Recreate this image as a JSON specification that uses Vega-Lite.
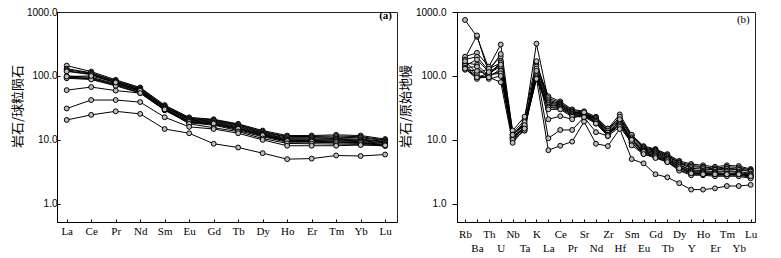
{
"$schema": "https://vega.github.io/schema/vega-lite/v6.json",
"padding": {"left": 10, "top": 6, "right": 0, "bottom": 0},
"config": {"view": {"stroke": "#222", "strokeWidth": 1}, "axis": {"grid": false, "domainColor": "#000", "tickColor": "#000", "labelColor": "#000", "titleColor": "#000"}},
"spacing": 60,
"bounds": "flush",
"datasets": {
"ree": [
{"s":"A1","e":"La","v":145},{"s":"A1","e":"Ce","v":117},{"s":"A1","e":"Pr","v":87},{"s":"A1","e":"Nd","v":66},{"s":"A1","e":"Sm","v":35},{"s":"A1","e":"Eu","v":22.5},{"s":"A1","e":"Gd","v":21},{"s":"A1","e":"Tb","v":17.8},{"s":"A1","e":"Dy","v":14},{"s":"A1","e":"Ho","v":11.7},{"s":"A1","e":"Er","v":11.7},{"s":"A1","e":"Tm","v":12},{"s":"A1","e":"Yb","v":11.7},{"s":"A1","e":"Lu","v":10.3},
{"s":"A2","e":"La","v":130},{"s":"A2","e":"Ce","v":112},{"s":"A2","e":"Pr","v":84},{"s":"A2","e":"Nd","v":64},{"s":"A2","e":"Sm","v":34},{"s":"A2","e":"Eu","v":22},{"s":"A2","e":"Gd","v":20.5},{"s":"A2","e":"Tb","v":17.5},{"s":"A2","e":"Dy","v":13.5},{"s":"A2","e":"Ho","v":11.3},{"s":"A2","e":"Er","v":11.3},{"s":"A2","e":"Tm","v":11.5},{"s":"A2","e":"Yb","v":11.2},{"s":"A2","e":"Lu","v":10},
{"s":"A3","e":"La","v":125},{"s":"A3","e":"Ce","v":110},{"s":"A3","e":"Pr","v":82},{"s":"A3","e":"Nd","v":63},{"s":"A3","e":"Sm","v":33},{"s":"A3","e":"Eu","v":21.5},{"s":"A3","e":"Gd","v":20},{"s":"A3","e":"Tb","v":17},{"s":"A3","e":"Dy","v":13.2},{"s":"A3","e":"Ho","v":11},{"s":"A3","e":"Er","v":11},{"s":"A3","e":"Tm","v":11},{"s":"A3","e":"Yb","v":10.8},{"s":"A3","e":"Lu","v":9.8},
{"s":"A4","e":"La","v":120},{"s":"A4","e":"Ce","v":107},{"s":"A4","e":"Pr","v":80},{"s":"A4","e":"Nd","v":61},{"s":"A4","e":"Sm","v":32.5},{"s":"A4","e":"Eu","v":21},{"s":"A4","e":"Gd","v":19.5},{"s":"A4","e":"Tb","v":16.5},{"s":"A4","e":"Dy","v":12.8},{"s":"A4","e":"Ho","v":10.6},{"s":"A4","e":"Er","v":10.7},{"s":"A4","e":"Tm","v":10.5},{"s":"A4","e":"Yb","v":10.3},{"s":"A4","e":"Lu","v":9.5},
{"s":"A5","e":"La","v":118},{"s":"A5","e":"Ce","v":105},{"s":"A5","e":"Pr","v":78},{"s":"A5","e":"Nd","v":60},{"s":"A5","e":"Sm","v":32},{"s":"A5","e":"Eu","v":20.5},{"s":"A5","e":"Gd","v":19},{"s":"A5","e":"Tb","v":16},{"s":"A5","e":"Dy","v":12.5},{"s":"A5","e":"Ho","v":10.3},{"s":"A5","e":"Er","v":10.3},{"s":"A5","e":"Tm","v":10.2},{"s":"A5","e":"Yb","v":10},{"s":"A5","e":"Lu","v":9.3},
{"s":"A6","e":"La","v":100},{"s":"A6","e":"Ce","v":95},{"s":"A6","e":"Pr","v":76},{"s":"A6","e":"Nd","v":58},{"s":"A6","e":"Sm","v":31},{"s":"A6","e":"Eu","v":20},{"s":"A6","e":"Gd","v":18.5},{"s":"A6","e":"Tb","v":15.5},{"s":"A6","e":"Dy","v":12.2},{"s":"A6","e":"Ho","v":10},{"s":"A6","e":"Er","v":10},{"s":"A6","e":"Tm","v":9.9},{"s":"A6","e":"Yb","v":9.7},{"s":"A6","e":"Lu","v":9},
{"s":"A7","e":"La","v":96},{"s":"A7","e":"Ce","v":92},{"s":"A7","e":"Pr","v":74},{"s":"A7","e":"Nd","v":57},{"s":"A7","e":"Sm","v":30},{"s":"A7","e":"Eu","v":19.5},{"s":"A7","e":"Gd","v":18},{"s":"A7","e":"Tb","v":15},{"s":"A7","e":"Dy","v":12},{"s":"A7","e":"Ho","v":9.8},{"s":"A7","e":"Er","v":9.8},{"s":"A7","e":"Tm","v":9.6},{"s":"A7","e":"Yb","v":9.4},{"s":"A7","e":"Lu","v":8.8},
{"s":"A8","e":"La","v":94},{"s":"A8","e":"Ce","v":90},{"s":"A8","e":"Pr","v":72},{"s":"A8","e":"Nd","v":55},{"s":"A8","e":"Sm","v":29.5},{"s":"A8","e":"Eu","v":19},{"s":"A8","e":"Gd","v":17.5},{"s":"A8","e":"Tb","v":14.5},{"s":"A8","e":"Dy","v":11.5},{"s":"A8","e":"Ho","v":9.5},{"s":"A8","e":"Er","v":9.5},{"s":"A8","e":"Tm","v":9.3},{"s":"A8","e":"Yb","v":9.1},{"s":"A8","e":"Lu","v":8.5},
{"s":"A9","e":"La","v":92},{"s":"A9","e":"Ce","v":88},{"s":"A9","e":"Pr","v":70},{"s":"A9","e":"Nd","v":54},{"s":"A9","e":"Sm","v":29},{"s":"A9","e":"Eu","v":18.5},{"s":"A9","e":"Gd","v":17},{"s":"A9","e":"Tb","v":14},{"s":"A9","e":"Dy","v":11.2},{"s":"A9","e":"Ho","v":9.2},{"s":"A9","e":"Er","v":9.2},{"s":"A9","e":"Tm","v":9},{"s":"A9","e":"Yb","v":8.8},{"s":"A9","e":"Lu","v":8.2},
{"s":"A10","e":"La","v":98},{"s":"A10","e":"Ce","v":100},{"s":"A10","e":"Pr","v":79},{"s":"A10","e":"Nd","v":59},{"s":"A10","e":"Sm","v":30.5},{"s":"A10","e":"Eu","v":19},{"s":"A10","e":"Gd","v":18},{"s":"A10","e":"Tb","v":15},{"s":"A10","e":"Dy","v":11.8},{"s":"A10","e":"Ho","v":9.6},{"s":"A10","e":"Er","v":9.4},{"s":"A10","e":"Tm","v":9.2},{"s":"A10","e":"Yb","v":9},{"s":"A10","e":"Lu","v":8.3},
{"s":"A11","e":"La","v":60},{"s":"A11","e":"Ce","v":67},{"s":"A11","e":"Pr","v":59},{"s":"A11","e":"Nd","v":54},{"s":"A11","e":"Sm","v":30},{"s":"A11","e":"Eu","v":17.8},{"s":"A11","e":"Gd","v":15.5},{"s":"A11","e":"Tb","v":13.5},{"s":"A11","e":"Dy","v":10.5},{"s":"A11","e":"Ho","v":8.8},{"s":"A11","e":"Er","v":8.7},{"s":"A11","e":"Tm","v":8.6},{"s":"A11","e":"Yb","v":8.5},{"s":"A11","e":"Lu","v":8},
{"s":"A12","e":"La","v":31},{"s":"A12","e":"Ce","v":42},{"s":"A12","e":"Pr","v":42},{"s":"A12","e":"Nd","v":39},{"s":"A12","e":"Sm","v":22.6},{"s":"A12","e":"Eu","v":16},{"s":"A12","e":"Gd","v":14.8},{"s":"A12","e":"Tb","v":12.7},{"s":"A12","e":"Dy","v":10},{"s":"A12","e":"Ho","v":8.1},{"s":"A12","e":"Er","v":8.1},{"s":"A12","e":"Tm","v":8.1},{"s":"A12","e":"Yb","v":8.3},{"s":"A12","e":"Lu","v":8.2},
{"s":"A13","e":"La","v":20.5},{"s":"A13","e":"Ce","v":24.6},{"s":"A13","e":"Pr","v":28},{"s":"A13","e":"Nd","v":25.5},{"s":"A13","e":"Sm","v":14.8},{"s":"A13","e":"Eu","v":12.7},{"s":"A13","e":"Gd","v":8.7},{"s":"A13","e":"Tb","v":7.6},{"s":"A13","e":"Dy","v":6.2},{"s":"A13","e":"Ho","v":5},{"s":"A13","e":"Er","v":5.1},{"s":"A13","e":"Tm","v":5.7},{"s":"A13","e":"Yb","v":5.6},{"s":"A13","e":"Lu","v":5.9}
],
"spider": [
{"s":"B1","e":"Rb","v":750},{"s":"B1","e":"Ba","v":410},{"s":"B1","e":"Th","v":130},{"s":"B1","e":"U","v":200},{"s":"B1","e":"Nb","v":12},{"s":"B1","e":"Ta","v":18},{"s":"B1","e":"K","v":150},{"s":"B1","e":"La","v":48},{"s":"B1","e":"Ce","v":40},{"s":"B1","e":"Pr","v":30},{"s":"B1","e":"Sr","v":28},{"s":"B1","e":"Nd","v":23},{"s":"B1","e":"Zr","v":15},{"s":"B1","e":"Hf","v":22},{"s":"B1","e":"Sm","v":12},{"s":"B1","e":"Eu","v":8},{"s":"B1","e":"Gd","v":7.2},{"s":"B1","e":"Tb","v":6},{"s":"B1","e":"Dy","v":4.7},{"s":"B1","e":"Y","v":4.2},{"s":"B1","e":"Ho","v":4},{"s":"B1","e":"Er","v":3.8},{"s":"B1","e":"Tm","v":4},{"s":"B1","e":"Yb","v":3.9},{"s":"B1","e":"Lu","v":3.5},
{"s":"B2","e":"Rb","v":190},{"s":"B2","e":"Ba","v":430},{"s":"B2","e":"Th","v":110},{"s":"B2","e":"U","v":150},{"s":"B2","e":"Nb","v":11},{"s":"B2","e":"Ta","v":16},{"s":"B2","e":"K","v":130},{"s":"B2","e":"La","v":45},{"s":"B2","e":"Ce","v":38},{"s":"B2","e":"Pr","v":29},{"s":"B2","e":"Sr","v":27},{"s":"B2","e":"Nd","v":22},{"s":"B2","e":"Zr","v":14},{"s":"B2","e":"Hf","v":21},{"s":"B2","e":"Sm","v":11.5},{"s":"B2","e":"Eu","v":7.8},{"s":"B2","e":"Gd","v":7},{"s":"B2","e":"Tb","v":5.8},{"s":"B2","e":"Dy","v":4.5},{"s":"B2","e":"Y","v":4},{"s":"B2","e":"Ho","v":3.8},{"s":"B2","e":"Er","v":3.6},{"s":"B2","e":"Tm","v":3.8},{"s":"B2","e":"Yb","v":3.7},{"s":"B2","e":"Lu","v":3.4},
{"s":"B3","e":"Rb","v":200},{"s":"B3","e":"Ba","v":230},{"s":"B3","e":"Th","v":140},{"s":"B3","e":"U","v":310},{"s":"B3","e":"Nb","v":13},{"s":"B3","e":"Ta","v":20},{"s":"B3","e":"K","v":320},{"s":"B3","e":"La","v":42},{"s":"B3","e":"Ce","v":37},{"s":"B3","e":"Pr","v":28},{"s":"B3","e":"Sr","v":26},{"s":"B3","e":"Nd","v":22},{"s":"B3","e":"Zr","v":15},{"s":"B3","e":"Hf","v":25},{"s":"B3","e":"Sm","v":12},{"s":"B3","e":"Eu","v":7.5},{"s":"B3","e":"Gd","v":6.8},{"s":"B3","e":"Tb","v":5.6},{"s":"B3","e":"Dy","v":4.4},{"s":"B3","e":"Y","v":3.8},{"s":"B3","e":"Ho","v":3.7},{"s":"B3","e":"Er","v":3.5},{"s":"B3","e":"Tm","v":3.6},{"s":"B3","e":"Yb","v":3.5},{"s":"B3","e":"Lu","v":3.3},
{"s":"B4","e":"Rb","v":180},{"s":"B4","e":"Ba","v":200},{"s":"B4","e":"Th","v":120},{"s":"B4","e":"U","v":220},{"s":"B4","e":"Nb","v":14},{"s":"B4","e":"Ta","v":23},{"s":"B4","e":"K","v":170},{"s":"B4","e":"La","v":40},{"s":"B4","e":"Ce","v":36},{"s":"B4","e":"Pr","v":27},{"s":"B4","e":"Sr","v":26},{"s":"B4","e":"Nd","v":21},{"s":"B4","e":"Zr","v":14},{"s":"B4","e":"Hf","v":23},{"s":"B4","e":"Sm","v":11},{"s":"B4","e":"Eu","v":7.3},{"s":"B4","e":"Gd","v":6.6},{"s":"B4","e":"Tb","v":5.5},{"s":"B4","e":"Dy","v":4.3},{"s":"B4","e":"Y","v":3.6},{"s":"B4","e":"Ho","v":3.5},{"s":"B4","e":"Er","v":3.4},{"s":"B4","e":"Tm","v":3.5},{"s":"B4","e":"Yb","v":3.4},{"s":"B4","e":"Lu","v":3.2},
{"s":"B5","e":"Rb","v":160},{"s":"B5","e":"Ba","v":150},{"s":"B5","e":"Th","v":100},{"s":"B5","e":"U","v":170},{"s":"B5","e":"Nb","v":12},{"s":"B5","e":"Ta","v":17},{"s":"B5","e":"K","v":140},{"s":"B5","e":"La","v":38},{"s":"B5","e":"Ce","v":35},{"s":"B5","e":"Pr","v":27},{"s":"B5","e":"Sr","v":25},{"s":"B5","e":"Nd","v":21},{"s":"B5","e":"Zr","v":13},{"s":"B5","e":"Hf","v":20},{"s":"B5","e":"Sm","v":10.5},{"s":"B5","e":"Eu","v":7},{"s":"B5","e":"Gd","v":6.4},{"s":"B5","e":"Tb","v":5.3},{"s":"B5","e":"Dy","v":4.1},{"s":"B5","e":"Y","v":3.4},{"s":"B5","e":"Ho","v":3.3},{"s":"B5","e":"Er","v":3.2},{"s":"B5","e":"Tm","v":3.3},{"s":"B5","e":"Yb","v":3.2},{"s":"B5","e":"Lu","v":3},
{"s":"B6","e":"Rb","v":150},{"s":"B6","e":"Ba","v":100},{"s":"B6","e":"Th","v":95},{"s":"B6","e":"U","v":130},{"s":"B6","e":"Nb","v":10},{"s":"B6","e":"Ta","v":14},{"s":"B6","e":"K","v":120},{"s":"B6","e":"La","v":36},{"s":"B6","e":"Ce","v":34},{"s":"B6","e":"Pr","v":26},{"s":"B6","e":"Sr","v":25},{"s":"B6","e":"Nd","v":20},{"s":"B6","e":"Zr","v":13},{"s":"B6","e":"Hf","v":19},{"s":"B6","e":"Sm","v":10},{"s":"B6","e":"Eu","v":6.8},{"s":"B6","e":"Gd","v":6.2},{"s":"B6","e":"Tb","v":5.1},{"s":"B6","e":"Dy","v":4},{"s":"B6","e":"Y","v":3.3},{"s":"B6","e":"Ho","v":3.2},{"s":"B6","e":"Er","v":3.1},{"s":"B6","e":"Tm","v":3.2},{"s":"B6","e":"Yb","v":3.1},{"s":"B6","e":"Lu","v":2.9},
{"s":"B7","e":"Rb","v":140},{"s":"B7","e":"Ba","v":95},{"s":"B7","e":"Th","v":110},{"s":"B7","e":"U","v":140},{"s":"B7","e":"Nb","v":11},{"s":"B7","e":"Ta","v":15},{"s":"B7","e":"K","v":110},{"s":"B7","e":"La","v":35},{"s":"B7","e":"Ce","v":33},{"s":"B7","e":"Pr","v":25},{"s":"B7","e":"Sr","v":24},{"s":"B7","e":"Nd","v":20},{"s":"B7","e":"Zr","v":12},{"s":"B7","e":"Hf","v":18},{"s":"B7","e":"Sm","v":10},{"s":"B7","e":"Eu","v":6.6},{"s":"B7","e":"Gd","v":6},{"s":"B7","e":"Tb","v":5},{"s":"B7","e":"Dy","v":3.8},{"s":"B7","e":"Y","v":3.2},{"s":"B7","e":"Ho","v":3.1},{"s":"B7","e":"Er","v":3},{"s":"B7","e":"Tm","v":3},{"s":"B7","e":"Yb","v":3},{"s":"B7","e":"Lu","v":2.8},
{"s":"B8","e":"Rb","v":130},{"s":"B8","e":"Ba","v":90},{"s":"B8","e":"Th","v":100},{"s":"B8","e":"U","v":120},{"s":"B8","e":"Nb","v":10.5},{"s":"B8","e":"Ta","v":15},{"s":"B8","e":"K","v":100},{"s":"B8","e":"La","v":33},{"s":"B8","e":"Ce","v":32},{"s":"B8","e":"Pr","v":25},{"s":"B8","e":"Sr","v":24},{"s":"B8","e":"Nd","v":19},{"s":"B8","e":"Zr","v":12},{"s":"B8","e":"Hf","v":18},{"s":"B8","e":"Sm","v":9.5},{"s":"B8","e":"Eu","v":6.4},{"s":"B8","e":"Gd","v":5.8},{"s":"B8","e":"Tb","v":4.8},{"s":"B8","e":"Dy","v":3.6},{"s":"B8","e":"Y","v":3},{"s":"B8","e":"Ho","v":3},{"s":"B8","e":"Er","v":2.9},{"s":"B8","e":"Tm","v":2.9},{"s":"B8","e":"Yb","v":2.9},{"s":"B8","e":"Lu","v":2.7},
{"s":"B9","e":"Rb","v":170},{"s":"B9","e":"Ba","v":110},{"s":"B9","e":"Th","v":130},{"s":"B9","e":"U","v":160},{"s":"B9","e":"Nb","v":12},{"s":"B9","e":"Ta","v":19},{"s":"B9","e":"K","v":95},{"s":"B9","e":"La","v":32},{"s":"B9","e":"Ce","v":31},{"s":"B9","e":"Pr","v":24},{"s":"B9","e":"Sr","v":23},{"s":"B9","e":"Nd","v":19},{"s":"B9","e":"Zr","v":12},{"s":"B9","e":"Hf","v":17},{"s":"B9","e":"Sm","v":9},{"s":"B9","e":"Eu","v":6.2},{"s":"B9","e":"Gd","v":5.6},{"s":"B9","e":"Tb","v":4.6},{"s":"B9","e":"Dy","v":3.4},{"s":"B9","e":"Y","v":2.9},{"s":"B9","e":"Ho","v":2.9},{"s":"B9","e":"Er","v":2.8},{"s":"B9","e":"Tm","v":2.8},{"s":"B9","e":"Yb","v":2.8},{"s":"B9","e":"Lu","v":2.6},
{"s":"B10","e":"Rb","v":125},{"s":"B10","e":"Ba","v":120},{"s":"B10","e":"Th","v":105},{"s":"B10","e":"U","v":110},{"s":"B10","e":"Nb","v":11},{"s":"B10","e":"Ta","v":16},{"s":"B10","e":"K","v":90},{"s":"B10","e":"La","v":30},{"s":"B10","e":"Ce","v":30},{"s":"B10","e":"Pr","v":23},{"s":"B10","e":"Sr","v":23},{"s":"B10","e":"Nd","v":18},{"s":"B10","e":"Zr","v":11.5},{"s":"B10","e":"Hf","v":16},{"s":"B10","e":"Sm","v":9},{"s":"B10","e":"Eu","v":6},{"s":"B10","e":"Gd","v":5.4},{"s":"B10","e":"Tb","v":4.5},{"s":"B10","e":"Dy","v":3.3},{"s":"B10","e":"Y","v":2.8},{"s":"B10","e":"Ho","v":2.8},{"s":"B10","e":"Er","v":2.7},{"s":"B10","e":"Tm","v":2.7},{"s":"B10","e":"Yb","v":2.7},{"s":"B10","e":"Lu","v":2.5},
{"s":"B11","e":"Rb","v":145},{"s":"B11","e":"Ba","v":180},{"s":"B11","e":"Th","v":115},{"s":"B11","e":"U","v":150},{"s":"B11","e":"Nb","v":12},{"s":"B11","e":"Ta","v":17},{"s":"B11","e":"K","v":130},{"s":"B11","e":"La","v":21},{"s":"B11","e":"Ce","v":23.5},{"s":"B11","e":"Pr","v":21},{"s":"B11","e":"Sr","v":27},{"s":"B11","e":"Nd","v":18},{"s":"B11","e":"Zr","v":12},{"s":"B11","e":"Hf","v":20},{"s":"B11","e":"Sm","v":10},{"s":"B11","e":"Eu","v":6.5},{"s":"B11","e":"Gd","v":5.5},{"s":"B11","e":"Tb","v":4.8},{"s":"B11","e":"Dy","v":3.8},{"s":"B11","e":"Y","v":3.1},{"s":"B11","e":"Ho","v":3},{"s":"B11","e":"Er","v":2.9},{"s":"B11","e":"Tm","v":2.9},{"s":"B11","e":"Yb","v":2.9},{"s":"B11","e":"Lu","v":2.8},
{"s":"B12","e":"Rb","v":135},{"s":"B12","e":"Ba","v":140},{"s":"B12","e":"Th","v":90},{"s":"B12","e":"U","v":100},{"s":"B12","e":"Nb","v":10},{"s":"B12","e":"Ta","v":14},{"s":"B12","e":"K","v":120},{"s":"B12","e":"La","v":10.6},{"s":"B12","e":"Ce","v":14.3},{"s":"B12","e":"Pr","v":14.3},{"s":"B12","e":"Sr","v":22.6},{"s":"B12","e":"Nd","v":13.2},{"s":"B12","e":"Zr","v":11.5},{"s":"B12","e":"Hf","v":21},{"s":"B12","e":"Sm","v":8.2},{"s":"B12","e":"Eu","v":6},{"s":"B12","e":"Gd","v":5.2},{"s":"B12","e":"Tb","v":4.5},{"s":"B12","e":"Dy","v":3.6},{"s":"B12","e":"Y","v":3},{"s":"B12","e":"Ho","v":2.9},{"s":"B12","e":"Er","v":2.9},{"s":"B12","e":"Tm","v":2.9},{"s":"B12","e":"Yb","v":2.9},{"s":"B12","e":"Lu","v":2.7},
{"s":"B13","e":"Rb","v":130},{"s":"B13","e":"Ba","v":95},{"s":"B13","e":"Th","v":95},{"s":"B13","e":"U","v":80},{"s":"B13","e":"Nb","v":9},{"s":"B13","e":"Ta","v":15},{"s":"B13","e":"K","v":90},{"s":"B13","e":"La","v":6.9},{"s":"B13","e":"Ce","v":8.1},{"s":"B13","e":"Pr","v":9.4},{"s":"B13","e":"Sr","v":19.3},{"s":"B13","e":"Nd","v":8.7},{"s":"B13","e":"Zr","v":8},{"s":"B13","e":"Hf","v":14.8},{"s":"B13","e":"Sm","v":5},{"s":"B13","e":"Eu","v":4.3},{"s":"B13","e":"Gd","v":2.9},{"s":"B13","e":"Tb","v":2.6},{"s":"B13","e":"Dy","v":2.1},{"s":"B13","e":"Y","v":1.67},{"s":"B13","e":"Ho","v":1.67},{"s":"B13","e":"Er","v":1.75},{"s":"B13","e":"Tm","v":1.9},{"s":"B13","e":"Yb","v":1.9},{"s":"B13","e":"Lu","v":1.98}
]
},
"hconcat": [
{
"width": 340, "height": 210,
"data": {"name": "ree"},
"title": {"text": "(a)", "anchor": "end", "orient": "top", "offset": -14, "dx": -5, "font": "Liberation Serif", "fontSize": 11, "fontWeight": "bold", "color": "#000"},
"encoding": {
"x": {"field": "e", "type": "nominal", "scale": {"type": "point", "domain": ["La","Ce","Pr","Nd","Sm","Eu","Gd","Tb","Dy","Ho","Er","Tm","Yb","Lu"], "padding": 0.44, "align": 0.45},
"axis": {"title": null, "labelFont": "Liberation Serif", "labelFontSize": 11, "labelAngle": 0, "tickSize": -3, "labelPadding": 6}},
"y": {"field": "v", "type": "quantitative", "scale": {"type": "log", "domain": [0.52, 1000], "nice": false},
"axis": {"title": "岩石/球粒陨石", "titleFont": "Noto Sans CJK SC", "titleFontSize": 13, "titleFontWeight": "normal", "titlePadding": 2, "titleY": 94, "values": [1, 10, 100, 1000], "format": ".1f", "labelFont": "Liberation Sans", "labelFontSize": 10, "tickSize": -3, "labelPadding": 3}},
"detail": {"field": "s"}
},
"layer": [
{"mark": {"type": "line", "color": "#000", "strokeWidth": 1}},
{"mark": {"type": "point", "shape": "circle", "size": 24, "filled": true, "fill": "#bdbdbd", "stroke": "#000", "strokeWidth": 1, "opacity": 1}}
]
},
{
"width": 298, "height": 210,
"data": {"name": "spider"},
"title": {"text": "(b)", "anchor": "end", "orient": "top", "offset": -18, "dx": -7, "font": "Liberation Serif", "fontSize": 11, "fontWeight": "normal", "color": "#000"},
"encoding": {
"x": {"field": "e", "type": "nominal", "scale": {"type": "point", "domain": ["Rb","Ba","Th","U","Nb","Ta","K","La","Ce","Pr","Sr","Nd","Zr","Hf","Sm","Eu","Gd","Tb","Dy","Y","Ho","Er","Tm","Yb","Lu"], "padding": 0.52, "align": 0.65},
"axis": {"title": null, "labelFont": "Liberation Serif", "labelFontSize": 11, "labelAngle": 0, "tickSize": -3, "labelOverlap": false,
"labelPadding": {"condition": {"test": "indexof(['Ba','U','Ta','La','Pr','Nd','Hf','Eu','Tb','Y','Er','Yb'], datum.value) >= 0", "value": 23}, "value": 9}}},
"y": {"field": "v", "type": "quantitative", "scale": {"type": "log", "domain": [0.52, 1000], "nice": false},
"axis": {"title": "岩石/原始地幔", "titleFont": "Noto Sans CJK SC", "titleFontSize": 13, "titleFontWeight": "normal", "titlePadding": 3, "titleY": 94, "values": [1, 10, 100, 1000], "format": ".1f", "labelFont": "Liberation Sans", "labelFontSize": 10, "tickSize": 5, "labelPadding": 6}},
"detail": {"field": "s"}
},
"layer": [
{"mark": {"type": "line", "color": "#000", "strokeWidth": 1}},
{"mark": {"type": "point", "shape": "circle", "size": 24, "filled": true, "fill": "#bdbdbd", "stroke": "#000", "strokeWidth": 1, "opacity": 1}}
]
}
]
}
